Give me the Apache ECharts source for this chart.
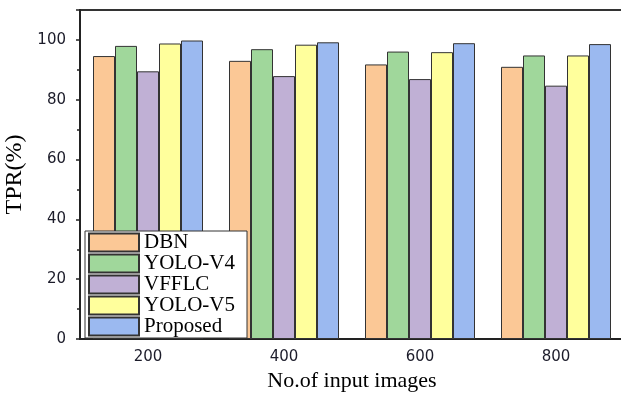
<!DOCTYPE html>
<html>
<head>
<meta charset="utf-8">
<script src="https://cdn.jsdelivr.net/npm/echarts@6/dist/echarts.min.js"></script>
<style>
  html, body { margin: 0; padding: 0; background: #fff; }
  #chart { width: 621px; height: 396px; }
</style>
</head>
<body>
<div id="chart"></div>
<script>
// Number of input images on the x axis
const categories = ['200', '400', '600', '800'];

// True positive rate (%) for each method
const dbn      = [94.6, 93.0, 91.8, 91.0];
const yoloV4   = [98.0, 96.9, 96.1, 94.8];
const vfflc    = [89.5, 87.9, 86.9, 84.7];
const yoloV5   = [98.8, 98.4, 95.9, 94.8];
const proposed = [99.8, 99.2, 98.9, 98.6];

const seriesNames = ['DBN', 'YOLO-V4', 'VFFLC', 'YOLO-V5', 'Proposed'];
const seriesData = [dbn, yoloV4, vfflc, yoloV5, proposed];
const seriesColors = ['#FBC896', '#A0D79B', '#C0B0D5', '#FFFF9C', '#9BB9F0'];

const serif = '"Liberation Serif", "Times New Roman", serif';
const sans = '"DejaVu Sans", sans-serif';

const chart = echarts.init(document.getElementById('chart'));

chart.setOption({
  animation: false,
  backgroundColor: '#fff',
  grid: {
    left: 80, top: 10, width: 544, bottom: 57,
    outerBoundsMode: 'none',
    containLabel: false,
    show: true, borderColor: '#333', borderWidth: 2
  },
  legend: {
    orient: 'vertical',
    left: 85, top: 231,
    itemWidth: 50, itemHeight: 18, itemGap: 0,
    padding: [1, 3],
    backgroundColor: '#fff',
    borderColor: '#333', borderWidth: 1,
    icon: 'rect',
    textStyle: { fontFamily: serif, fontSize: 21, color: '#000', lineHeight: 21, width: 100 },
    data: seriesNames
  },
  xAxis: [
    {
      type: 'category',
      data: categories,
      name: 'No.of input images',
      nameLocation: 'middle',
      nameGap: 19,
      nameTextStyle: { fontFamily: serif, fontSize: 22, color: '#000' },
      axisLine: { lineStyle: { color: '#222', width: 2 } },
      axisTick: { alignWithLabel: true, length: 5, lineStyle: { color: '#222', width: 1.5 } },
      axisLabel: { fontFamily: sans, fontSize: 15, color: '#1c1c2a', margin: 11 }
    },
    {
      type: 'category',
      data: categories,
      position: 'bottom',
      axisLine: { show: false },
      axisTick: { length: 3, lineStyle: { color: '#222', width: 1.5 } },
      axisLabel: { show: false }
    }
  ],
  yAxis: {
    type: 'value',
    min: 0, max: 110, interval: 20,
    name: 'TPR(%)',
    nameLocation: 'middle',
    nameGap: 52,
    nameTextStyle: { fontFamily: serif, fontSize: 24, color: '#000' },
    axisLine: { show: true, lineStyle: { color: '#222', width: 2 } },
    axisTick: { show: true, length: 4, lineStyle: { color: '#222', width: 1.5 } },
    minorTick: { show: true, splitNumber: 2, length: 3, lineStyle: { color: '#222', width: 1.5 } },
    splitLine: { show: false },
    axisLabel: { fontFamily: sans, fontSize: 15, color: '#1c1c2a', margin: 14, showMaxLabel: false }
  },
  series: seriesNames.map((name, i) => ({
    name,
    type: 'bar',
    xAxisIndex: 0,
    data: seriesData[i],
    barWidth: 22,
    barGap: '0%',
    itemStyle: { color: seriesColors[i], borderColor: '#333', borderWidth: 1 }
  }))
});
</script>
</body>
</html>
